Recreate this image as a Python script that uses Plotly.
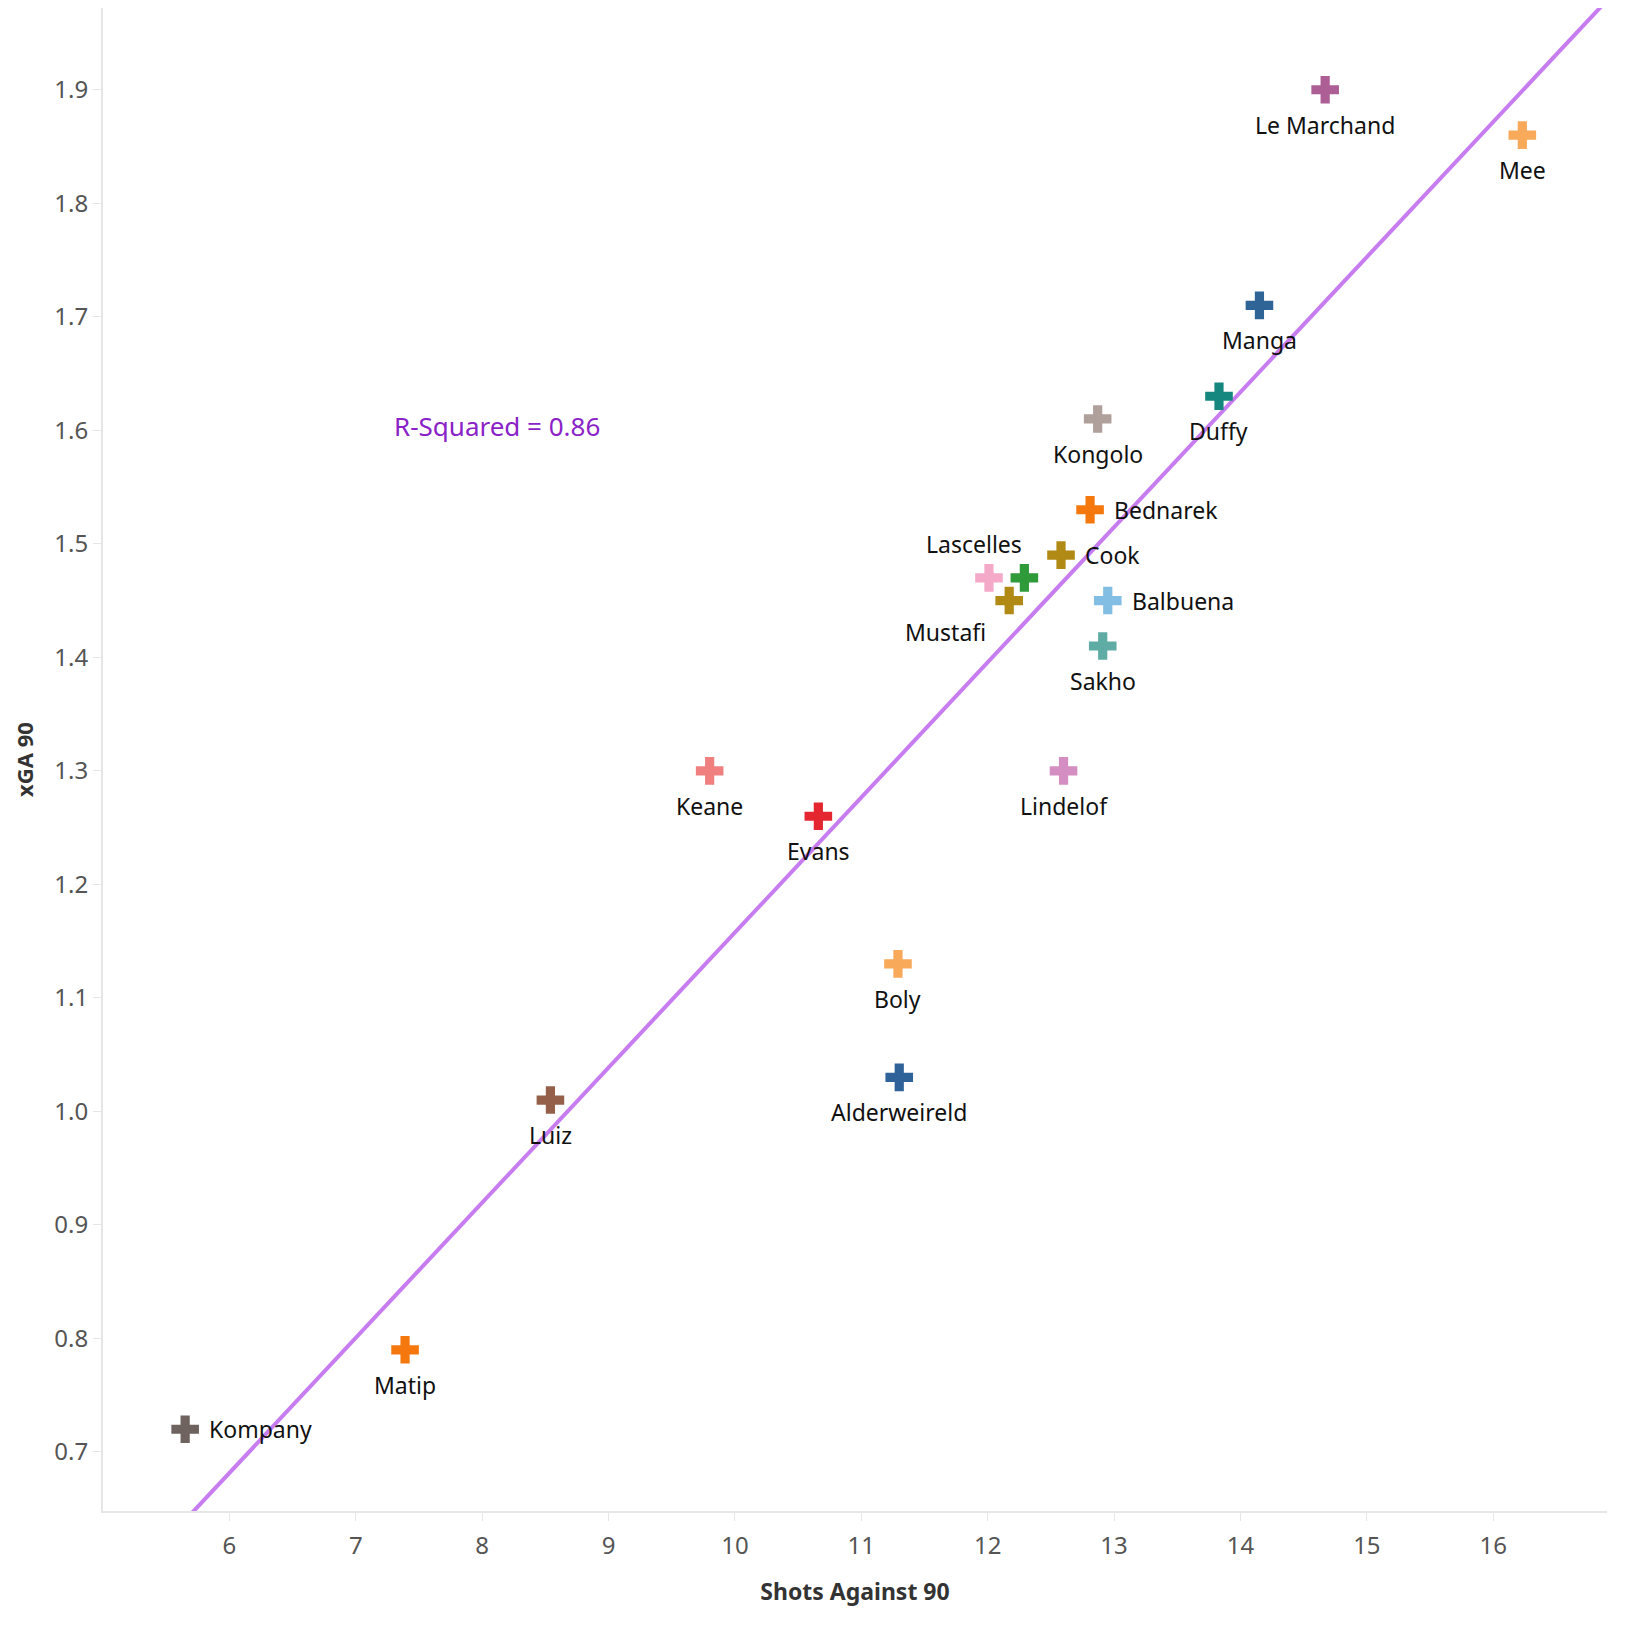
import numpy as np
import plotly.graph_objects as go

players = ["Kompany", "Matip", "Luiz", "Keane", "Evans", "Boly", "Alderweireld",
           "Lindelof", "Lascelles", "", "Mustafi", "Cook", "Bednarek", "Balbuena",
           "Sakho", "Kongolo", "Duffy", "Manga", "Le Marchand", "Mee"]
shots_against_90 = [5.65, 7.39, 8.54, 9.80, 10.66, 11.29, 11.30,
                    12.60, 12.01, 12.29, 12.17, 12.58, 12.81, 12.95,
                    12.91, 12.87, 13.83, 14.15, 14.67, 16.23]
xga_90 = [0.72, 0.79, 1.01, 1.30, 1.26, 1.13, 1.03,
          1.30, 1.47, 1.47, 1.45, 1.49, 1.53, 1.45,
          1.41, 1.61, 1.63, 1.71, 1.90, 1.86]

x_ticks = [6, 7, 8, 9, 10, 11, 12, 13, 14, 15, 16]
y_ticks = [0.7, 0.8, 0.9, 1.0, 1.1, 1.2, 1.3, 1.4, 1.5, 1.6, 1.7, 1.8, 1.9]
y_tick_labels = ["0.7", "0.8", "0.9", "1.0", "1.1", "1.2", "1.3", "1.4", "1.5", "1.6", "1.7", "1.8", "1.9"]

# styles
marker_colors = ["#6f6360", "#f5780f", "#94604a", "#f08080", "#e3262f", "#f8a95a", "#2e6298",
                 "#d58ec1", "#f5a9c8", "#2e9a3a", "#b08a14", "#b08a14", "#f5780f", "#82bde3",
                 "#5eaca4", "#b0a09b", "#16877f", "#2f6596", "#ac5e95", "#f8a95a"]
label_positions = ["right", "bottom", "bottom", "bottom", "bottom",
                   "bottom", "bottom", "bottom", "topleft", "bottom",
                   "bottomleft", "right", "right", "right", "bottom",
                   "bottom", "bottom", "bottom", "bottom", "bottom"]
# label placement (anchor, x shift px, y shift px) per position kind
placement = {
    "bottom": ("center", "middle", 0, -35),
    "right": ("left", "middle", 22, 0),
    "topleft": ("center", "middle", -15, 34),
    "bottomleft": ("right", "middle", -21, -31),
}

x_range = [5.0, 16.9]
y_range = [0.648, 1.972]

xa = np.array(shots_against_90)
ya = np.array(xga_90)
slope, intercept = np.polyfit(xa, ya, 1)
r2 = np.corrcoef(xa, ya)[0, 1] ** 2
line_x = np.array([x_range[0] - 0.5, x_range[1] + 0.5])
line_y = slope * line_x + intercept

fig = go.Figure()
fig.add_trace(go.Scatter(
    x=line_x, y=line_y, mode="lines",
    line=dict(color="#c77cf0", width=4),
    hoverinfo="skip", showlegend=False,
))
fig.add_trace(go.Scatter(
    x=shots_against_90, y=xga_90, mode="markers",
    text=players,
    marker=dict(symbol="cross", size=23, color=marker_colors, line=dict(width=0)),
    showlegend=False,
))

for name, sx, sy, pos in zip(players, shots_against_90, xga_90, label_positions):
    if not name:
        continue
    xanc, yanc, dx, dy = placement[pos]
    fig.add_annotation(
        x=sx, y=sy, xref="x", yref="y", text=name, showarrow=False,
        xanchor=xanc, yanchor=yanc, xshift=dx, yshift=dy,
        font=dict(family="Noto Sans, sans-serif", size=23, color="#111111"),
    )

fig.add_annotation(
    x=7.29, y=1.604, xref="x", yref="y", xanchor="left", yanchor="middle",
    text=f"R-Squared = {np.floor(r2 * 100) / 100:.2f}", showarrow=False,
    font=dict(family="Noto Sans, sans-serif", size=26, color="#8a22c8"),
)

fig.update_layout(
    width=1642, height=1625,
    margin=dict(l=103, r=35, t=8, b=114),
    paper_bgcolor="white", plot_bgcolor="white",
    font=dict(family="Noto Sans, sans-serif"),
)
fig.update_xaxes(
    range=x_range, tickvals=x_ticks, showgrid=False, zeroline=False,
    showline=True, linecolor="#e6e6e6", linewidth=2,
    ticks="outside", ticklen=8, tickcolor="#e6e6e6", ticklabelstandoff=4,
    tickfont=dict(family="Noto Sans, sans-serif", size=24, color="#555555"),
    title=dict(text="<b>Shots Against 90</b>", font=dict(family="Noto Sans, sans-serif", size=23, color="#333333"), standoff=24),
)
fig.update_yaxes(
    range=y_range, tickvals=y_ticks, ticktext=y_tick_labels, showgrid=False, zeroline=False,
    showline=True, linecolor="#e6e6e6", linewidth=2,
    ticks="outside", ticklen=8, tickcolor="#e6e6e6",
    tickfont=dict(family="Noto Sans, sans-serif", size=24, color="#555555"),
    title=dict(text="<b>xGA 90</b>", font=dict(family="Noto Sans, sans-serif", size=22, color="#333333"), standoff=15),
)

fig.write_html("out.html")
